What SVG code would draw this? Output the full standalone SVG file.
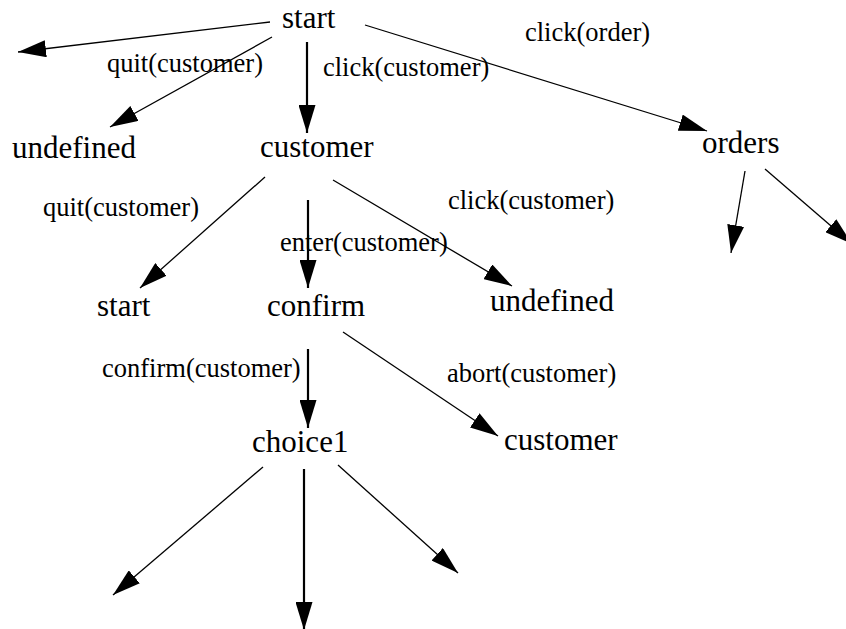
<svg xmlns="http://www.w3.org/2000/svg" width="846" height="629" viewBox="0 0 846 629">
  <defs>
    <marker id="head" markerUnits="userSpaceOnUse" markerWidth="29" markerHeight="17" refX="28" refY="8.5" orient="auto">
      <path d="M0,0 L28,8.5 L0,17 z" fill="#000"/>
    </marker>
    <style>
      .state { font-family: "Liberation Serif", "Times New Roman", serif; font-size: 31px; fill: #000; }
      .event { font-family: "Liberation Serif", "Times New Roman", serif; font-size: 26.5px; fill: #000; }
      .edge { stroke: #000; stroke-width: 1.3; fill: none; marker-end: url(#head); }
      .edge.down { stroke-width: 2.2; }
    </style>
  </defs>
  <rect width="846" height="629" fill="#fff"/>

  <!-- transitions -->
  <g id="connectors">
    <line class="edge" x1="270" y1="22" x2="18" y2="52"/>
    <line class="edge" x1="272" y1="37" x2="110" y2="127"/>
    <line class="edge down" x1="307" y1="42" x2="307" y2="133"/>
    <line class="edge" x1="365" y1="25" x2="707" y2="131"/>
    <line class="edge" x1="265" y1="177" x2="140" y2="288"/>
    <line class="edge down" x1="308" y1="200" x2="308" y2="288"/>
    <line class="edge" x1="333" y1="180" x2="512" y2="286"/>
    <line class="edge down" x1="308" y1="349" x2="308" y2="428"/>
    <line class="edge" x1="343" y1="332" x2="498" y2="436"/>
    <line class="edge" x1="745" y1="171" x2="731" y2="253"/>
    <line class="edge" x1="765" y1="169" x2="852" y2="244"/>
    <line class="edge" x1="263" y1="467" x2="113" y2="595"/>
    <line class="edge down" x1="304" y1="469" x2="304" y2="630"/>
    <line class="edge" x1="338" y1="465" x2="458" y2="573"/>
  </g>

  <!-- transition labels -->
  <g id="edge-labels">
    <text class="event" x="107" y="72">quit(customer)</text>
    <text class="event" x="323" y="76">click(customer)</text>
    <text class="event" x="525" y="41">click(order)</text>
    <text class="event" x="43" y="216">quit(customer)</text>
    <text class="event" x="280" y="251">enter(customer)</text>
    <text class="event" x="448" y="209">click(customer)</text>
    <text class="event" x="102" y="377">confirm(customer)</text>
    <text class="event" x="447" y="382">abort(customer)</text>
  </g>

  <!-- states -->
  <g id="start"><text class="state" x="282" y="28">start</text></g>
  <g id="undefined-1"><text class="state" x="12" y="158">undefined</text></g>
  <g id="customer"><text class="state" x="260" y="157">customer</text></g>
  <g id="orders"><text class="state" x="702" y="153">orders</text></g>
  <g id="start-2"><text class="state" x="97" y="316">start</text></g>
  <g id="confirm"><text class="state" x="267" y="316">confirm</text></g>
  <g id="undefined-2"><text class="state" x="490" y="311">undefined</text></g>
  <g id="choice1"><text class="state" x="252" y="452">choice1</text></g>
  <g id="customer-2"><text class="state" x="504" y="450">customer</text></g>
</svg>
